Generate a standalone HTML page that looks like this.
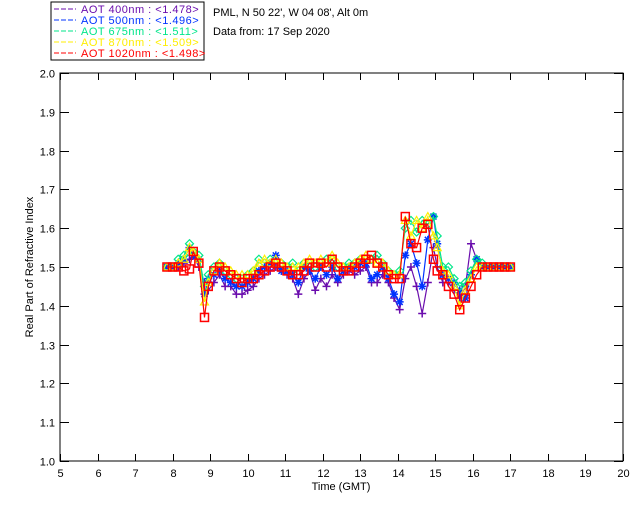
<!DOCTYPE html>
<html><head><meta charset="utf-8"><style>
body{margin:0;background:#fff;width:640px;height:512px;overflow:hidden}
svg text{font-family:"Liberation Sans",sans-serif;font-size:11px}
</style></head><body>
<svg id="chart" width="640" height="512" xmlns="http://www.w3.org/2000/svg">
<g id="legend">
<rect x="51" y="2" width="153" height="58" fill="#fff" stroke="#000" stroke-width="1"/>
</g>
<text x="213" y="16" fill="#000">PML, N 50 22', W 04 08', Alt 0m</text>
<text x="213" y="35" fill="#000">Data from: 17 Sep 2020</text>
<g id="axes"></g>
<g id="marks"></g>
<text x="341" y="490" text-anchor="middle">Time (GMT)</text>
<text transform="translate(33,267) rotate(-90)" text-anchor="middle">Real Part of Refractive Index</text>
</svg>
<script>
const times=[7.85,8.0,8.15,8.3,8.45,8.55,8.7,8.85,8.95,9.1,
9.25,9.4,9.55,9.7,9.85,10.0,10.15,10.3,10.45,10.6,
10.75,10.9,11.05,11.2,11.35,11.5,11.65,11.8,11.95,12.1,
12.25,12.4,12.55,12.7,12.85,13.0,13.15,13.3,13.45,13.6,
13.75,13.9,14.05,14.2,14.35,14.5,14.65,14.8,14.95,15.05,
15.2,15.35,15.5,15.65,15.8,15.95,16.1,16.25,16.4,16.55,
16.7,16.85,17.0];
const aot400=[1.50,1.50,1.50,1.51,1.52,1.53,1.50,1.46,1.44,1.46,
1.48,1.45,1.45,1.43,1.43,1.44,1.45,1.47,1.48,1.49,
1.50,1.49,1.48,1.47,1.43,1.47,1.49,1.44,1.47,1.45,
1.48,1.46,1.48,1.49,1.48,1.49,1.50,1.46,1.46,1.48,
1.46,1.42,1.39,1.47,1.50,1.45,1.38,1.46,1.55,1.50,
1.46,1.46,1.44,1.42,1.45,1.56,1.52,1.50,1.50,1.50,
1.50,1.50,1.50];
const aot500=[1.50,1.50,1.51,1.52,1.55,1.53,1.52,1.43,1.47,1.48,
1.49,1.47,1.46,1.45,1.45,1.46,1.47,1.49,1.50,1.51,
1.53,1.49,1.49,1.48,1.46,1.50,1.49,1.47,1.50,1.48,
1.50,1.47,1.49,1.50,1.50,1.51,1.51,1.47,1.48,1.50,
1.47,1.43,1.41,1.53,1.56,1.51,1.45,1.57,1.63,1.56,
1.48,1.47,1.46,1.44,1.42,1.48,1.52,1.50,1.50,1.50,
1.50,1.50,1.50];
const aot675=[1.50,1.50,1.52,1.53,1.56,1.54,1.53,1.45,1.48,1.50,
1.51,1.49,1.48,1.47,1.47,1.48,1.49,1.52,1.51,1.52,
1.51,1.51,1.50,1.51,1.49,1.51,1.51,1.50,1.51,1.52,
1.52,1.50,1.50,1.51,1.51,1.52,1.52,1.52,1.53,1.51,
1.49,1.48,1.49,1.60,1.62,1.59,1.62,1.61,1.63,1.58,
1.50,1.50,1.47,1.45,1.46,1.49,1.52,1.51,1.50,1.50,
1.50,1.50,1.50];
const aot870=[1.50,1.50,1.51,1.52,1.55,1.54,1.52,1.41,1.46,1.49,
1.51,1.50,1.49,1.48,1.48,1.48,1.49,1.51,1.52,1.51,
1.52,1.51,1.50,1.50,1.50,1.51,1.52,1.51,1.52,1.51,
1.53,1.51,1.50,1.50,1.51,1.52,1.53,1.52,1.51,1.51,
1.49,1.48,1.48,1.62,1.58,1.62,1.60,1.63,1.58,1.55,
1.49,1.48,1.45,1.40,1.44,1.47,1.50,1.50,1.50,1.50,
1.50,1.50,1.50];
const aot1020=[1.50,1.50,1.50,1.49,1.495,1.54,1.51,1.37,1.45,1.49,
1.50,1.49,1.48,1.47,1.46,1.47,1.47,1.48,1.49,1.50,
1.51,1.50,1.49,1.48,1.48,1.49,1.51,1.50,1.51,1.50,
1.52,1.50,1.49,1.49,1.50,1.51,1.52,1.53,1.51,1.50,
1.48,1.47,1.47,1.63,1.56,1.55,1.60,1.61,1.52,1.49,
1.48,1.45,1.43,1.39,1.42,1.45,1.48,1.50,1.50,1.50,
1.50,1.50,1.50];
const xTicks=[5,6,7,8,9,10,11,12,13,14,15,16,17,18,19,20];
const yTicks=[1.0,1.1,1.2,1.3,1.4,1.5,1.6,1.7,1.8,1.9,2.0];
const legendLabels=["AOT  400nm : <1.478>","AOT  500nm : <1.496>","AOT  675nm : <1.511>","AOT  870nm : <1.509>","AOT 1020nm : <1.498>"];

const NS="http://www.w3.org/2000/svg";
const X0=60,X1=623,Y0=461,Y1=73;
const sx=t=>X0+(t-5)/15*(X1-X0);
const sy=v=>Y0-(v-1)/1*(Y0-Y1);
function mk(tag,attrs,parent){const e=document.createElementNS(NS,tag);for(const k in attrs)e.setAttribute(k,attrs[k]);parent.appendChild(e);return e;}
const axes=document.getElementById('axes'),marks=document.getElementById('marks'),legend=document.getElementById('legend');
const frame=mk('rect',{x:X0,y:Y1,width:X1-X0,height:Y0-Y1,fill:'none',stroke:'#000','stroke-width':1},axes);


xTicks.forEach(t=>{
 const x=Math.round(sx(t))+0.5;
 mk('line',{x1:x,x2:x,y1:Y0,y2:Y0-7,stroke:'#000'},axes);
 mk('line',{x1:x,x2:x,y1:Y1,y2:Y1+7,stroke:'#000'},axes);
 const tx=mk('text',{x:x,y:Y0+16,'text-anchor':'middle'},axes);tx.textContent=t;
 
 
});
yTicks.forEach(v=>{
 const y=Math.round(sy(v))+0.5;
 mk('line',{x1:X0,x2:X0+9,y1:y,y2:y,stroke:'#000'},axes);
 mk('line',{x1:X1,x2:X1-9,y1:y,y2:y,stroke:'#000'},axes);
 const tx=mk('text',{x:X0-5,y:y+4,'text-anchor':'end'},axes);tx.textContent=v.toFixed(1);
 
 
});
const series=[[aot400,'#6a0dad','plus'],[aot500,'#0033ff','star'],[aot675,'#00e68a','diamond'],[aot870,'#ffee00','tri'],[aot1020,'#ff0000','square']];
const names=['aot-400','aot-500','aot-675','aot-870','aot-1020'];
series.forEach(([vals,col,m],i)=>{
 const g=mk('g',{},marks);
 
 
 const pts=vals.map((v,j)=>sx(times[j]).toFixed(1)+','+sy(v).toFixed(1)).join(' ');
 mk('polyline',{points:pts,fill:'none',stroke:col,'stroke-width':1.2},g);
 vals.forEach((v,j)=>{
  const x=sx(times[j]),y=sy(v);let e;
  if(m==='plus') e=mk('path',{d:`M${x-4},${y}h8M${x},${y-4}v8`,stroke:col,'stroke-width':1.5,fill:'none'},g);
  else if(m==='star') e=mk('path',{d:`M${x-4},${y}h8M${x},${y-4}v8M${x-3},${y-3}l6,6M${x-3},${y+3}l6,-6`,stroke:col,'stroke-width':1.5,fill:'none'},g);
  else if(m==='diamond') e=mk('path',{d:`M${x},${y-4}l4,4l-4,4l-4,-4z`,stroke:col,'stroke-width':1.2,fill:'none'},g);
  else if(m==='tri') e=mk('path',{d:`M${x},${y-4}l4,7h-8z`,stroke:col,'stroke-width':1.2,fill:'none'},g);
  else e=mk('rect',{x:x-4,y:y-4,width:8,height:8,stroke:col,'stroke-width':1.5,fill:'none'},g);
  
  
 });
});
legendLabels.forEach((l,i)=>{
 const col=series[i][1];const y=13+i*11;
 mk('line',{x1:54,x2:76,y1:y-4,y2:y-4,stroke:col,'stroke-dasharray':'5,2'},legend);
 const tx=mk('text',{x:81,y:y,fill:col,'xml:space':'preserve','letter-spacing':'0.5'},legend);tx.textContent=l;
 
 
});
</script>
</body></html>
